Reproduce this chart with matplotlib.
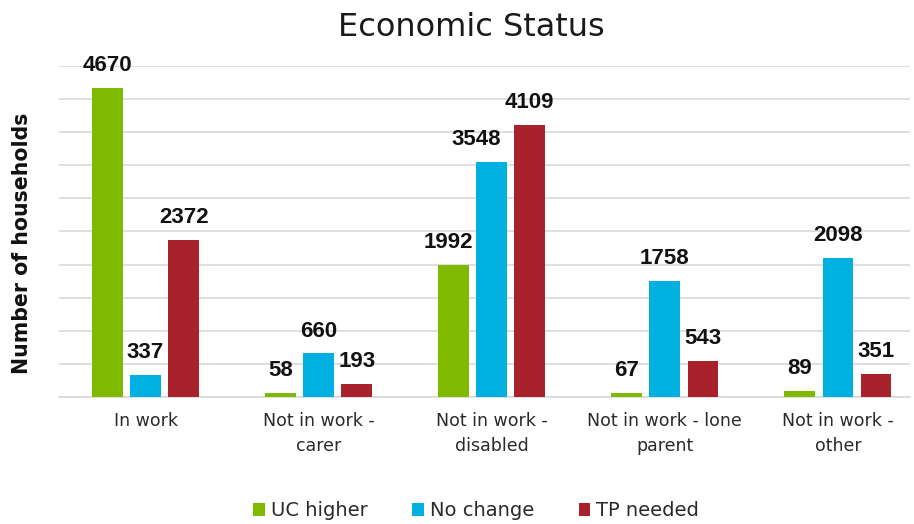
import matplotlib
matplotlib.use("Agg")
import matplotlib.pyplot as plt
import numpy as np

categories = ["In work", "Not in work -\ncarer", "Not in work -\ndisabled", "Not in work - lone\nparent", "Not in work -\nother"]
series_names = ["UC higher", "No change", "TP needed"]
uc_higher = [4670, 58, 1992, 67, 89]
no_change = [337, 660, 3548, 1758, 2098]
tp_needed = [2372, 193, 4109, 543, 351]
colors = ["#7FBA00", "#00B0E0", "#A8222B"]

# horizontal nudges (points) for labels that were shifted in the original to avoid overlap
label_nudge = {(0, 2): -4, (1, 2): -11}

FONT = "DejaVu Sans"

fig = plt.figure(figsize=(9.14, 5.24), dpi=100)
ax = fig.add_axes([59/914, 1-397/524, (910-59)/914, (397-66)/524])

x = np.arange(len(categories))
w = 0.178
off = 0.22
for i, (vals, name, c) in enumerate(zip([uc_higher, no_change, tp_needed], series_names, colors)):
    pos = x + (i-1)*off
    ax.bar(pos, vals, width=w, color=c, label=name, zorder=3)
    for j, (p, v) in enumerate(zip(pos, vals)):
        dx = label_nudge.get((i, j), 0)
        ax.annotate(f"{v}", (p, v), xytext=(dx, 8.5), textcoords="offset points",
                    ha="center", va="bottom", fontsize=16, fontweight="bold",
                    family="Liberation Sans", color="#111111")

ax.set_ylim(0, 5000)
ax.set_xlim(-0.5, 4 + (910-838)/173)
ax.set_yticks(np.arange(0, 5001, 500))
ax.set_yticklabels([])
ax.tick_params(axis="y", length=0)
ax.tick_params(axis="x", length=0, pad=11)
ax.set_xticks(x)
ax.set_xticklabels(categories, fontsize=12.5, family=FONT, color="#2a2a2a", linespacing=1.45)
ax.grid(axis="y", color="#D9D9D9", linewidth=1.2, zorder=0)
for s in ["top", "right", "left"]:
    ax.spines[s].set_visible(False)
ax.spines["bottom"].set_color("#D9D9D9")
ax.spines["bottom"].set_linewidth(1.2)

fig.text(471/914, 1-27/524, "Economic Status", ha="center", va="center", fontsize=23, family=FONT, color="#1a1a1a")
fig.text(22/914, 1-243/524, "Number of households", rotation=90, ha="center", va="center",
         fontsize=14.8, fontweight="bold", family=FONT, color="#111111")

leg = fig.legend(loc="center", bbox_to_anchor=(476/914, 1-511/524), ncol=3, frameon=False,
                 prop={"family": FONT, "size": 14}, handlelength=0.6, handleheight=0.6,
                 handletextpad=0.3, columnspacing=2.3)
for t in leg.get_texts():
    t.set_color("#2a2a2a")

fig.savefig("out.png", dpi=100)
